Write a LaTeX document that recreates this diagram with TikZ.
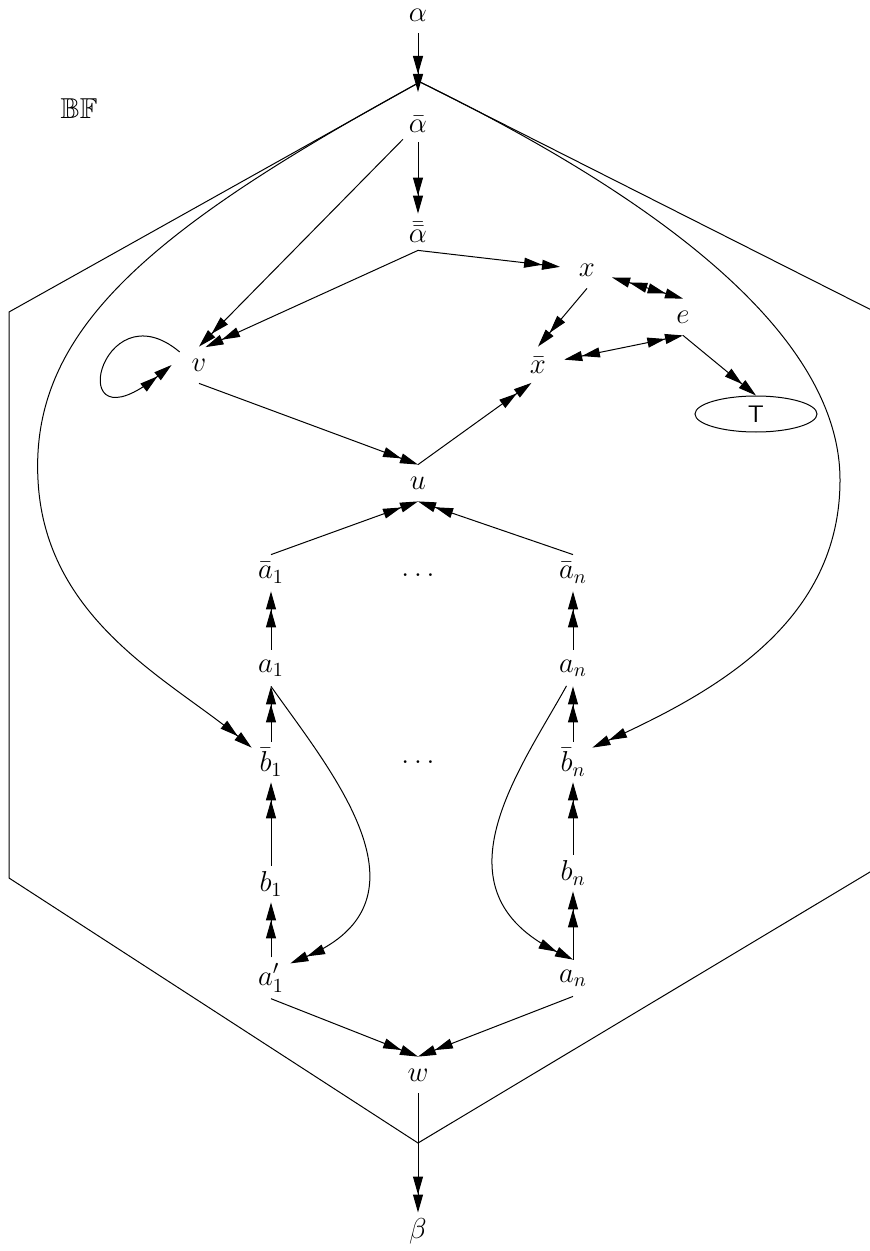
\documentclass[tikz,border=0pt]{standalone}
\usepackage{amssymb}
\usetikzlibrary{arrows.meta,shapes.geometric}

\begin{document}
\begin{tikzpicture}[
  x=0.5pt, y=-0.5pt,
  vx/.style={ellipse, minimum width=27pt, minimum height=18pt, inner sep=0pt, font=\Large},
  arr/.style={-{Triangle[length=9pt,width=5pt]Triangle[length=9pt,width=5pt]}, line width=0.5pt},
  darr/.style={{Triangle[length=9pt,width=5pt]Triangle[length=9pt,width=5pt]}-{Triangle[length=9pt,width=5pt]Triangle[length=9pt,width=5pt]}, line width=0.5pt},
  wire/.style={line width=0.5pt},
  goal/.style={draw, ellipse, line width=0.5pt, minimum width=61pt, minimum height=18pt, inner sep=0pt, font=\large\sffamily}]
\useasboundingbox (0,0) rectangle (870,1251);
\clip (0,0) rectangle (870,1251);
\node[font=\Large] (bf) at (79,109) {$\mathbb{BF}$};
\node[vx] (al) at (418,15) {$\alpha$};
\coordinate (top) at (420,82);
\coordinate (entry) at (418,92);
\node[vx] (ab) at (418,124) {$\bar{\alpha}$};
\node[vx] (abb) at (418,232) {$\bar{\bar{\alpha}}$};
\node[vx] (x) at (587,270) {$x$};
\node[vx] (e) at (683,317) {$e$};
\node[vx] (xb) at (538,365) {$\bar{x}$};
\node[vx] (v) at (199,365) {$v$};
\node[goal] (T) at (756,414) {T};
\node[vx] (u) at (418,483) {$u$};
\node[vx] (ab1) at (271,573) {$\bar{a}_1$};
\node[vx] (dotsA) at (418,575) {$\dots$};
\node[vx] (abn) at (573,573) {$\bar{a}_n$};
\node[vx] (a1) at (271,668) {$a_1$};
\node[vx] (an) at (573,668) {$a_n$};
\node[vx] (bb1) at (271,762) {$\bar{b}_1$};
\node[vx] (dotsB) at (418,762) {$\dots$};
\node[vx] (bbn) at (573,762) {$\bar{b}_n$};
\node[vx] (b1) at (271,884) {$b_1$};
\node[vx] (bn) at (573,873) {$b_n$};
\node[vx] (a1p) at (271,978) {$a'_1$};
\node[vx] (an2) at (573,978) {$a_n$};
\node[vx] (w) at (418,1075) {$w$};
\coordinate (bot) at (418,1143);
\node[vx] (be) at (418,1231) {$\beta$};
\draw[wire] (top) -- (9,312) -- (9,878) -- (bot) -- (905,851) -- (905,327) -- cycle;
\draw[arr] (top) .. controls (150,230) and (30,330) .. (38,480)
  .. controls (45,620) and (170,680) .. (bb1.north west);
\draw[arr] (top) .. controls (620,180) and (840,320) .. (840,480)
  .. controls (840,620) and (720,690) .. (bbn.north east);
\draw[arr] (al) -- (entry);
\draw[arr] (ab) -- (abb);
\draw[arr] (ab) -- (v.north);
\draw[arr] (abb.south) -- (v.70);
\draw[arr] (abb.south) -- (x);
\draw[arr] (x.south) -- (xb.north);
\draw[darr] (x) -- (e.north);
\draw[darr] (xb) -- (e.south);
\draw[arr] (e.south) -- (T.north);
\draw[arr] (v.146) .. controls (100,285) and (60,455) .. (v.west);
\draw[arr] (v.south) -- (u.north);
\draw[arr] (u.north) -- (xb.-110);
\draw[arr] (ab1.north) -- (u.south);
\draw[arr] (abn.north) -- (u.south);
\draw[arr] (a1) -- (ab1);
\draw[arr] (an) -- (abn);
\draw[arr] (bb1) -- (a1);
\draw[arr] (bbn) -- (an);
\draw[arr] (b1) -- (bb1);
\draw[arr] (bn) -- (bbn);
\draw[arr] (a1p) -- (b1);
\draw[arr] (an2) -- (bn);
\draw[arr] (a1.south) .. controls (330,770) and (440,900) .. (a1p.north east);
\draw[arr] (an.250) .. controls (520,770) and (430,890) .. (an2.north);
\draw[arr] (a1p.south) -- (w.north);
\draw[arr] (an2.south) -- (w.north);
\draw[wire] (w) -- (bot);
\draw[arr] (bot) -- (be);
\end{tikzpicture}
\end{document}
